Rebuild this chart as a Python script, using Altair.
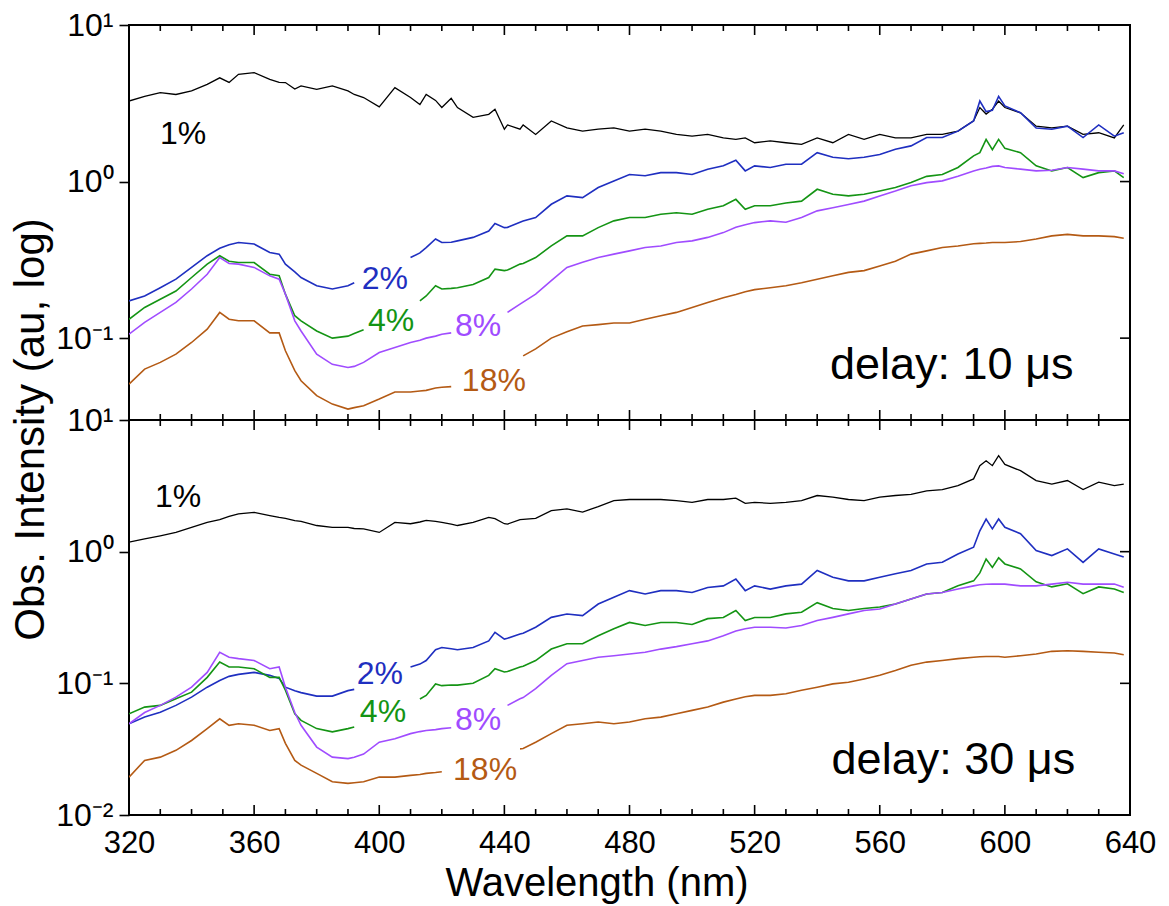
import altair as alt
import pandas as pd

# ---------------- data ----------------
WL = [320, 325, 330, 335, 340, 345,
      349, 352, 355, 360, 365, 368, 370, 373, 375,
      380, 385, 390, 392, 395,
      400, 405, 410, 413, 415, 418, 420, 423, 425,
      430, 435, 437, 440, 441, 445, 446,
      450, 455, 460, 465, 470, 475, 480, 485, 490, 495, 500, 505, 510,
      514, 517, 520, 525, 530, 535, 540, 545, 550, 555, 560, 565, 570, 575, 580, 585, 590,
      592, 594, 596, 598, 600, 605, 610, 615, 620, 625, 630, 635, 638]

N = None

# delay 10 us
T1 = [3.27, 3.5, 3.7, 3.6, 3.79, 4.18,
      4.6, 4.3, 4.84, 4.97, 4.5, 4.3, 4.29, 3.9, 4.08,
      3.88, 4.08, 3.79, 3.6, 3.44,
      3.0, 3.98, 3.44, 3.1, 3.6, 3.3, 2.97, 3.4, 2.97,
      2.57, 2.69, 2.9, 2.16, 2.3, 2.16, 2.3,
      2.0, 2.44, 2.2, 2.1, 2.16, 2.2, 2.1, 2.16, 2.1, 2.0, 1.95, 2.0, 1.9,
      1.86, 1.9, 1.77, 1.82, 1.77, 1.73, 1.9, 1.77, 2.0, 1.86, 2.0, 1.9, 1.9, 2.0, 2.0, 2.1, 2.44,
      2.97, 2.7, 2.9, 3.27, 2.97, 2.75, 2.26, 2.2, 2.26, 2.0, 2.05, 1.9, 2.3]
T2 = [0.173, 0.186, 0.21, 0.238, 0.283, 0.336,
      0.375, 0.395, 0.408, 0.399, 0.352, 0.344, 0.297, 0.265, 0.244,
      0.216, 0.206, 0.216, 0.226, N,
      N, N, 0.327, 0.35, 0.379, 0.43, 0.408, 0.41, 0.418,
      0.44, 0.483, 0.54, 0.508, 0.51, 0.55, 0.56,
      0.589, 0.716, 0.81, 0.79, 0.916, 1.01, 1.11, 1.09, 1.14, 1.14, 1.11, 1.2, 1.26,
      1.37, 1.17, 1.26, 1.23, 1.29, 1.29, 1.53, 1.43, 1.40, 1.43, 1.49, 1.61, 1.69, 1.91, 1.91, 2.1, 2.44,
      3.27, 2.8, 2.85, 3.5, 3.04, 2.75, 2.2, 2.16, 2.26, 1.91, 2.3, 1.95, 2.05]
T4 = [0.132, 0.157, 0.177, 0.2, 0.244, 0.297,
      0.336, 0.31, 0.304, 0.304, 0.256, 0.25, 0.191, 0.139, 0.129,
      0.111, 0.1, 0.103, 0.107, 0.113,
      N, N, N, 0.173, 0.186, 0.216, 0.206, 0.208, 0.21,
      0.22, 0.244, 0.276, 0.27, 0.272, 0.297, 0.30,
      0.327, 0.388, 0.45, 0.45, 0.508, 0.561, 0.589, 0.589, 0.618, 0.632, 0.618, 0.665, 0.70,
      0.77, 0.665, 0.70, 0.70, 0.73, 0.75, 0.893, 0.83, 0.81, 0.83, 0.87, 0.916, 0.985, 1.08, 1.11, 1.23, 1.46,
      1.53, 1.86, 1.6, 1.86, 1.63, 1.53, 1.26, 1.17, 1.23, 1.06, 1.14, 1.17, 1.06]
T8 = [0.106, 0.126, 0.146, 0.169, 0.206, 0.256,
      0.327, 0.3, 0.297, 0.283, 0.25, 0.238, 0.191, 0.129, 0.111,
      0.079, 0.068, 0.065, 0.066, 0.07,
      0.081, 0.087, 0.0937, 0.097, 0.1, 0.103, 0.106, 0.108, N,
      N, N, N, N, 0.146, 0.165, 0.17,
      0.191, 0.233, 0.283, 0.305, 0.327, 0.344, 0.361, 0.379, 0.388, 0.408, 0.418, 0.44, 0.472,
      0.51, 0.53, 0.547, 0.561, 0.55, 0.589, 0.65, 0.68, 0.714, 0.75, 0.81, 0.87, 0.94, 0.985, 1.01, 1.08, 1.17,
      1.2, 1.22, 1.25, 1.26, 1.23, 1.2, 1.17, 1.18, 1.23, 1.2, 1.17, 1.17, 1.12]
T18 = [0.0508, 0.0634, 0.070, 0.079, 0.0938, 0.114,
       0.146, 0.132, 0.129, 0.129, 0.108, 0.108, 0.083, 0.062, 0.0534,
       0.0429, 0.0379, 0.0352, 0.036, 0.037,
       0.0408, 0.0453, 0.0453, 0.046, 0.0464, 0.048, 0.0486, 0.049, N,
       N, N, N, N, N, N, 0.077,
       0.0854, 0.1, 0.11, 0.1195, 0.122, 0.125, 0.125, 0.132, 0.139, 0.146, 0.157, 0.169, 0.181,
       0.19, 0.198, 0.204, 0.21, 0.216, 0.226, 0.238, 0.25, 0.263, 0.27, 0.289, 0.31, 0.344, 0.361, 0.379, 0.388, 0.401,
       0.403, 0.405, 0.408, 0.408, 0.408, 0.414, 0.43, 0.45, 0.46, 0.45, 0.45, 0.445, 0.435]

# delay 30 us
B1 = [1.18, 1.25, 1.32, 1.40, 1.53, 1.67,
      1.75, 1.85, 1.94, 1.99, 1.88, 1.82, 1.79, 1.72, 1.70,
      1.58, 1.53, 1.53, 1.5, 1.49,
      1.40, 1.67, 1.63, 1.68, 1.73, 1.7, 1.67, 1.62, 1.58,
      1.67, 1.82, 1.78, 1.63, 1.62, 1.75, 1.76,
      1.79, 2.05, 2.11, 2.0, 2.2, 2.44, 2.49, 2.49, 2.49, 2.44, 2.37, 2.49, 2.49,
      2.55, 2.33, 2.37, 2.33, 2.37, 2.44, 2.67, 2.6, 2.49, 2.44, 2.6, 2.67, 2.72, 2.9, 2.96, 3.17, 3.57,
      4.5, 4.9, 4.5, 5.36, 4.6, 4.12, 3.47, 3.26, 3.47, 2.96, 3.37, 3.17, 3.26]
B2 = [0.0493, 0.0554, 0.0604, 0.068, 0.0786, 0.0935,
      0.105, 0.113, 0.117, 0.121, 0.115, 0.109, 0.0935, 0.088, 0.085,
      0.08, 0.08, 0.088, 0.09, N,
      N, N, 0.133, 0.14, 0.149, 0.18, 0.187, 0.183, 0.18,
      0.187, 0.21, 0.244, 0.217, 0.22, 0.237, 0.24,
      0.267, 0.317, 0.336, 0.327, 0.40, 0.45, 0.506, 0.477, 0.506, 0.506, 0.49, 0.535, 0.55,
      0.62, 0.506, 0.55, 0.52, 0.55, 0.567, 0.72, 0.64, 0.60, 0.60, 0.64, 0.68, 0.72, 0.807, 0.83, 0.96, 1.08,
      1.44, 1.77, 1.49, 1.77, 1.53, 1.37, 1.02, 0.934, 1.05, 0.83, 1.05, 0.96, 0.91]
B4 = [0.0587, 0.066, 0.068, 0.0763, 0.0857, 0.111,
      0.145, 0.133, 0.133, 0.129, 0.111, 0.111, 0.0886, 0.0587, 0.0523,
      0.0453, 0.0428, 0.0453, 0.0466, N,
      N, N, N, 0.076, 0.081, 0.099, 0.096, 0.097, 0.097,
      0.1, 0.115, 0.129, 0.122, 0.123, 0.133, 0.135,
      0.149, 0.182, 0.2, 0.2, 0.23, 0.26, 0.29, 0.275, 0.29, 0.29, 0.28, 0.31, 0.316,
      0.357, 0.30, 0.316, 0.316, 0.337, 0.347, 0.41, 0.37, 0.357, 0.37, 0.38, 0.40, 0.437, 0.477, 0.49, 0.55, 0.6,
      0.69, 0.88, 0.76, 0.9, 0.807, 0.74, 0.59, 0.54, 0.57, 0.48, 0.54, 0.52, 0.49]
B8 = [0.0493, 0.06, 0.068, 0.0786, 0.0935, 0.121,
      0.172, 0.158, 0.154, 0.149, 0.129, 0.133, 0.0935, 0.06, 0.048,
      0.0328, 0.0275, 0.0268, 0.0275, 0.029,
      0.0357, 0.038, 0.0415, 0.043, 0.0438, 0.0445, 0.0453, 0.046, N,
      N, N, N, N, 0.068, 0.0763, 0.078,
      0.091, 0.115, 0.141, 0.149, 0.158, 0.162, 0.167, 0.172, 0.182, 0.19, 0.2, 0.21, 0.23,
      0.25, 0.26, 0.267, 0.267, 0.263, 0.275, 0.30, 0.317, 0.337, 0.357, 0.367, 0.40, 0.437, 0.477, 0.49, 0.52, 0.55,
      0.56, 0.565, 0.567, 0.567, 0.567, 0.55, 0.55, 0.567, 0.585, 0.567, 0.567, 0.567, 0.537]
B18 = [0.0194, 0.026, 0.0275, 0.031, 0.0368, 0.0453,
       0.0538, 0.048, 0.0493, 0.048, 0.0438, 0.0453, 0.035, 0.026, 0.0239,
       0.0207, 0.0179, 0.0174, 0.0176, 0.0179,
       0.0194, 0.0194, 0.02, 0.0203, 0.0207, 0.021, 0.0213, N, N,
       N, N, N, N, N, 0.0318, 0.032,
       0.0357, 0.0415, 0.048, 0.0493, 0.0508, 0.0493, 0.0508, 0.0538, 0.0554, 0.0587, 0.0623, 0.066, 0.072,
       0.076, 0.079, 0.081, 0.081, 0.0834, 0.0886, 0.0935, 0.099, 0.102, 0.108, 0.115, 0.125, 0.137, 0.145, 0.149, 0.154, 0.158,
       0.159, 0.16, 0.16, 0.16, 0.158, 0.162, 0.167, 0.175, 0.177, 0.175, 0.172, 0.17, 0.165]

SERIES = ["1%", "2%", "4%", "8%", "18%"]
COLORS = ["#000000", "#1F2FC0", "#149414", "#A04CFF", "#B45A14"]

TOP_ANN_WL = [329.9, 394.4, 396.4, 424.2, 426.4]
TOP_ANN_VAL = [1.733, 0.2056, 0.1114, 0.1035, 0.0461]
BOT_ANN_WL = [328.3, 392.8, 393.8, 424.2, 423.6]
BOT_ANN_VAL = [2.17, 0.0991, 0.0507, 0.0439, 0.01832]

DELAY_TEXT = ["delay: 10 \u03bcs", "delay: 30 \u03bcs"]
DELAY_WL = [544.1, 544.6]
DELAY_VAL = [0.0551, 0.02056]

XTICKS = [320, 360, 400, 440, 480, 520, 560, 600, 640]
XMINOR = [w for w in range(320, 641, 10) if w not in XTICKS]

TOP_DOMAIN = [0.03, 10]
BOT_DOMAIN = [0.01, 10]
TOP_DECADES = [0.1, 1, 10]
BOT_DECADES = [0.01, 0.1, 1, 10]

# ---------------- layout ----------------
W, H = 1001, 395
FONT = "Liberation Sans"
LABEL_EXPR = ("datum.value > 5 ? '10\u00b9' : datum.value > 0.5 ? '10\u2070' : "
              "datum.value > 0.05 ? '10\u207b\u00b9' : '10\u207b\u00b2'")


def frame(values, label):
    rows, seg, gap = [], 0, False
    for w, v in zip(WL, values):
        if v is None:
            gap = True
            continue
        if gap:
            seg += 1
            gap = False
        rows.append({"wl": w, "val": v, "seg": f"{label}-{seg}"})
    return pd.DataFrame(rows)


def x_enc(show):
    sc = alt.Scale(domain=[320, 640], nice=False, zero=False)
    if not show:
        return alt.X("wl:Q", scale=sc, axis=None)
    ax = alt.Axis(values=XTICKS, ticks=False, tickSize=0, domain=False, grid=False,
                  labelFontSize=31, labelPadding=37, labelBaseline="alphabetic",
                  labelColor="black", labelFlush=False, labelOverlap=False,
                  title="Wavelength (nm)", titleFontSize=40, titleFontWeight="normal",
                  titleColor="black", titleX=467.5, titleY=80, titleAlign="center",
                  titleBaseline="alphabetic")
    return alt.X("wl:Q", scale=sc, axis=ax)


def y_enc(domain, decades, with_title):
    sc = alt.Scale(type="log", domain=domain, nice=False)
    kw = dict(values=decades, labelExpr=LABEL_EXPR, tickSize=10, tickWidth=1.6,
              tickColor="black", domain=False, grid=False, labelFontSize=32,
              labelPadding=6, labelColor="black", labelFlush=False, labelOverlap=False)
    if with_title:
        kw.update(title="Obs. Intensity (au, log)", titleFontSize=42,
                  titleFontWeight="normal", titleColor="black", titleX=-86,
                  titleY=404, titleAngle=270, titleAlign="center",
                  titleBaseline="alphabetic")
    else:
        kw.update(title="")
    return alt.Y("val:Q", scale=sc, axis=alt.Axis(**kw))


def panel(series_values, domain, decades, ann_wl, ann_val, delay_i, top):
    xe = x_enc(not top)
    ye = y_enc(domain, decades, top)
    layers = []
    for vals, lab, col in zip(series_values, SERIES, COLORS):
        df = frame(vals, lab)
        layers.append(
            alt.Chart(df).mark_line(color=col, strokeWidth=1.6 if lab != "1%" else 1.3,
                                    clip=True)
            .encode(x=xe, y=ye, detail="seg:N")
        )
    ann = pd.DataFrame({"wl": ann_wl, "val": ann_val, "txt": SERIES})
    layers.append(
        alt.Chart(ann).mark_text(align="left", baseline="alphabetic", fontSize=32, font=FONT)
        .encode(x=xe, y=ye, text="txt:N",
                color=alt.Color("txt:N", scale=alt.Scale(domain=SERIES, range=COLORS), legend=None))
    )
    dl = pd.DataFrame({"wl": [DELAY_WL[delay_i]], "val": [DELAY_VAL[delay_i]],
                       "txt": [DELAY_TEXT[delay_i]]})
    layers.append(
        alt.Chart(dl).mark_text(align="left", baseline="alphabetic", fontSize=45,
                                font=FONT, color="black")
        .encode(x=xe, y=ye, text="txt:N")
    )
    # x ticks (inward, top and bottom)
    maj = pd.DataFrame({"wl": XTICKS})
    mnr = pd.DataFrame({"wl": XMINOR})
    for d, ln in ((maj, 10), (mnr, 6)):
        layers.append(alt.Chart(d).mark_rule(color="black", strokeWidth=1.6)
                      .encode(x=xe, y=alt.value(0), y2=alt.value(ln)))
        layers.append(alt.Chart(d).mark_rule(color="black", strokeWidth=1.6)
                      .encode(x=xe, y=alt.value(H), y2=alt.value(H - ln)))
    # right y ticks (inward)
    dec = pd.DataFrame({"val": decades})
    layers.append(alt.Chart(dec).mark_rule(color="black", strokeWidth=1.6)
                  .encode(y=ye, x=alt.value(W - 10), x2=alt.value(W)))
    return alt.layer(*layers).properties(width=W, height=H)


top = panel([T1, T2, T4, T8, T18], TOP_DOMAIN, TOP_DECADES, TOP_ANN_WL, TOP_ANN_VAL, 0, True)
bot = panel([B1, B2, B4, B8, B18], BOT_DOMAIN, BOT_DECADES, BOT_ANN_WL, BOT_ANN_VAL, 1, False)

chart = (
    alt.vconcat(top, bot, spacing=0, bounds="flush")
    .properties(padding={"left": 8, "top": 8, "right": 10, "bottom": 5})
    .configure(font=FONT)
    .configure_view(stroke="black", strokeWidth=2)
    .configure_axis(labelFont=FONT, titleFont=FONT)
)

chart.save("out.html", embed_options={"renderer": "svg", "actions": False})
